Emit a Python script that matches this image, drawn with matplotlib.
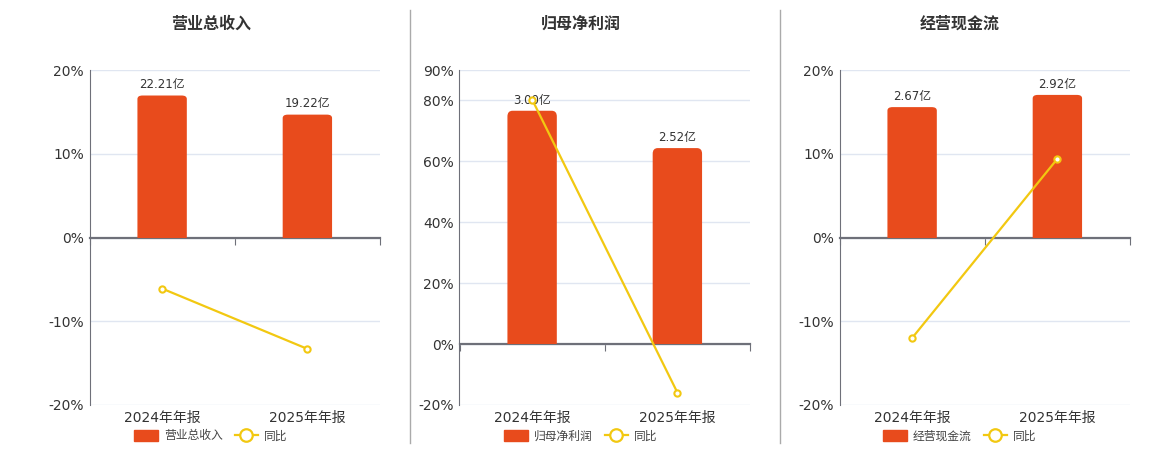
import matplotlib.pyplot as plt
from matplotlib.lines import Line2D
from matplotlib.patches import FancyBboxPatch, Rectangle
from matplotlib.ticker import FuncFormatter

plt.rcParams['font.family'] = ['DejaVu Sans', 'Noto Sans CJK SC']

# 数据
categories = ['2024年年报', '2025年年报']
titles = ['营业总收入', '归母净利润', '经营现金流']
bar_values = [[22.21, 19.22], [3.00, 2.52], [2.67, 2.92]]
bar_labels = [['22.21亿', '19.22亿'], ['3.00亿', '2.52亿'], ['2.67亿', '2.92亿']]
yoy_values = [[-6.1, -13.3], [80.3, -15.9], [-12.0, 9.4]]
pct_ticks = [[-20, -10, 0, 10, 20], [-20, 0, 20, 40, 60, 80, 90], [-20, -10, 0, 10, 20]]
bar_top = [26.2, 3.524, 3.43]

BAR_C = '#E84B1C'
LINE_C = '#F2C811'
AXIS_C = '#6E7079'
GRID_C = '#E0E6F1'
TXT_C = '#333333'

fig = plt.figure(figsize=(11.6, 4.5), dpi=100)
W, H = 1160, 450

lefts = [89.5, 459.5, 839.5]
centers = [211, 581, 960]

for i in range(3):
    ax = fig.add_axes([lefts[i] / W, 1 - 405 / H, 290.5 / W, 335 / H])
    lo, hi = pct_ticks[i][0], pct_ticks[i][-1]
    ax.set_ylim(lo, hi)
    ax.set_xlim(-0.5, 1.5)
    ax.set_yticks(pct_ticks[i])
    ax.yaxis.set_major_formatter(FuncFormatter(lambda v, p: '%d%%' % v))
    ax.tick_params(axis='y', length=0, labelsize=10, labelcolor=TXT_C, pad=4)
    ax.grid(axis='y', color=GRID_C, lw=1)
    ax.set_axisbelow(True)
    for s in ['top', 'right']:
        ax.spines[s].set_visible(False)
    ax.spines['left'].set_color(AXIS_C)
    ax.spines['bottom'].set_position(('data', 0))
    ax.spines['bottom'].set_color(AXIS_C)
    ax.spines['bottom'].set_linewidth(1.6)
    ax.set_xticks([-0.5, 0.5, 1.5])
    ax.set_xticklabels(['', '', ''])
    ax.tick_params(axis='x', length=5, color=AXIS_C, direction='out')

    sec = ax.secondary_xaxis('bottom')
    sec.set_xticks([0, 1])
    sec.set_xticklabels(categories)
    sec.tick_params(length=0, labelsize=10, labelcolor=TXT_C, pad=4)
    sec.spines['bottom'].set_visible(False)

    # 柱状图(次坐标), 顶部圆角
    axb = ax.twinx()
    top = bar_top[i]
    axb.set_ylim(top * lo / hi, top)
    axb.set_xlim(-0.5, 1.5)
    axb.axis('off')
    bars = axb.bar([0, 1], bar_values[i], width=0.34, color=BAR_C)
    for b in bars:
        b.set_visible(False)
        x0, w, h = b.get_x(), b.get_width(), b.get_height()
        r = FancyBboxPatch((x0, -top * 0.1), w, h + top * 0.1,
                           boxstyle='round,pad=0,rounding_size=0.035',
                           mutation_aspect=top / 0.34 * 0.2,
                           color=BAR_C, lw=0)
        axb.add_patch(r)
        clip = Rectangle((x0 - 0.1, 0), w + 0.2, top * 2, transform=axb.transData)
        r.set_clip_path(clip)
    axb.bar_label(bars, labels=bar_labels[i], padding=3, fontsize=8.5, color=TXT_C)

    # 同比折线
    axl = ax.twinx()
    axl.set_ylim(lo, hi)
    axl.set_xlim(-0.5, 1.5)
    axl.axis('off')
    axl.plot([0, 1], yoy_values[i], color=LINE_C, lw=1.6, marker='o', ms=4.5,
             mfc='white', mec=LINE_C, mew=1.5)

    fig.text(centers[i] / W, 1 - 24 / H, titles[i], ha='center', va='center',
             fontsize=11.5, fontweight='bold', color=TXT_C)

    handles = [FancyBboxPatch((0, 0), 1, 1, boxstyle='round,pad=0.1', color=BAR_C),
               Line2D([], [], color=LINE_C, lw=1.6, marker='o', ms=9,
                      mfc='white', mec=LINE_C, mew=1.6)]
    fig.legend(handles, [titles[i], '同比'], loc='center', ncol=2,
               bbox_to_anchor=(centers[i] / W, 1 - 436 / H), frameon=False,
               fontsize=8.5, handlelength=2.0, handleheight=1.1,
               handletextpad=0.5, columnspacing=1.0, labelcolor='#444444')

# 分隔线
for x in [410, 780]:
    fig.add_artist(Line2D([x / W, x / W], [1 - 443 / H, 1 - 10 / H],
                          color='#AAAAAA', lw=1))

plt.savefig('out.png')
